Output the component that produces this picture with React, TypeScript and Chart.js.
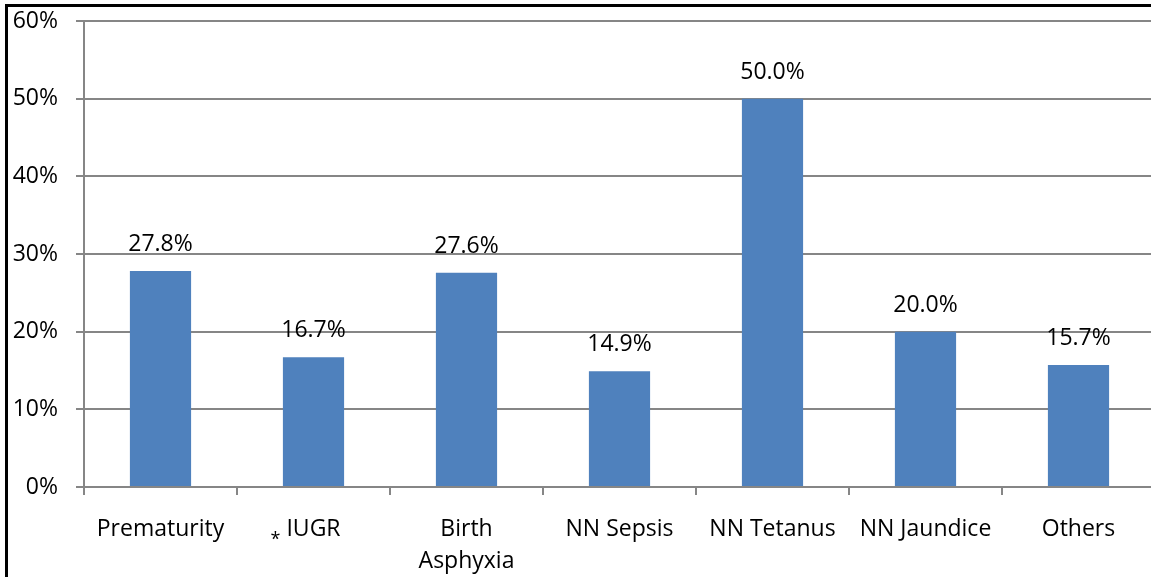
import React, { useEffect, useRef } from "react";
import { Chart, registerables } from "chart.js";

Chart.register(...registerables);

const categories: (string | string[])[] = [
  "Prematurity",
  "IUGR",
  ["Birth", "Asphyxia"],
  "NN Sepsis",
  "NN Tetanus",
  "NN Jaundice",
  "Others",
];
const values: number[] = [27.8, 16.7, 27.6, 14.9, 50.0, 20.0, 15.7];
const yTicks: number[] = [0, 10, 20, 30, 40, 50, 60];
const markedCategory = 1;

const FONT = "'Open Sans', 'DejaVu Sans', sans-serif";
const FONT_SIZE = 23;

const labelPlugin = {
  id: "valueLabels",
  afterDatasetsDraw(chart: any) {
    const ctx = chart.ctx;
    const meta = chart.getDatasetMeta(0);
    ctx.save();
    ctx.fillStyle = "#000";
    ctx.font = `${FONT_SIZE}px ${FONT}`;
    ctx.textAlign = "center";
    ctx.textBaseline = "alphabetic";
    meta.data.forEach((bar: any, i: number) => {
      ctx.fillText(values[i].toFixed(1) + "%", bar.x, bar.y - 20);
    });
    // asterisk before the marked category label
    const xScale = chart.scales.x;
    const cx = xScale.getPixelForValue(markedCategory);
    const lbl = categories[markedCategory] as string;
    const w = ctx.measureText(lbl).width;
    ctx.font = `18px ${FONT}`;
    ctx.textAlign = "right";
    ctx.fillText("*", cx - w / 2 - 6, 545);
    ctx.restore();
  },
};

export default function App() {
  const ref = useRef<HTMLCanvasElement | null>(null);
  useEffect(() => {
    if (!ref.current) return;
    const chart = new Chart(ref.current, {
      type: "bar",
      data: {
        labels: categories,
        datasets: [
          {
            data: values,
            backgroundColor: "#4F81BD",
            borderWidth: 0,
            barPercentage: 0.8,
            categoryPercentage: 0.5,
          },
        ],
      },
      options: {
        responsive: false,
        animation: false,
        maintainAspectRatio: false,
        layout: { padding: { top: 21, right: 5, left: 0, bottom: 0 } },
        plugins: {
          legend: { display: false },
          tooltip: { enabled: false },
        },
        scales: {
          y: {
            min: 0,
            max: 60,
            afterBuildTicks: (axis: any) => {
              axis.ticks = yTicks.map((v) => ({ value: v }));
            },
            afterFit: (axis: any) => {
              axis.width = 84;
              axis.paddingTop = 0;
              axis.paddingBottom = 0;
            },
            ticks: {
              callback: (v: any) => v + "%",
              color: "#000",
              font: { family: FONT, size: FONT_SIZE },
              padding: 18,
            },
            grid: {
              color: "#868686",
              lineWidth: 2,
              tickLength: 8,
              tickColor: "#868686",
            },
            border: { color: "#868686", width: 2 },
          },
          x: {
            afterFit: (axis: any) => {
              axis.height = 90;
              axis.paddingLeft = 0;
              axis.paddingRight = 0;
            },
            ticks: {
              color: "#000",
              font: { family: FONT, size: FONT_SIZE, lineHeight: 1.4 },
              padding: 18,
              maxRotation: 0,
              autoSkip: false,
            },
            grid: {
              drawOnChartArea: false,
              drawTicks: true,
              tickLength: 8,
              tickColor: "#868686",
              lineWidth: 2,
              offset: true,
            },
            border: { color: "#868686", width: 2 },
          },
        },
      },
      plugins: [labelPlugin],
    });
    return () => chart.destroy();
  }, []);

  return (
    <div
      style={{
        position: "fixed",
        left: 0,
        top: 0,
        width: 1151,
        height: 577,
        overflow: "hidden",
        background: "#fff",
      }}
    >
      <div
        style={{
          position: "absolute",
          left: 5,
          top: 4,
          width: 1200,
          height: 620,
          borderLeft: "3px solid #000",
          borderTop: "3px solid #000",
        }}
      />
      <canvas
        ref={ref}
        width={1160}
        height={577}
        style={{ position: "absolute", left: 0, top: 0, width: 1160, height: 577 }}
      />
    </div>
  );
}
